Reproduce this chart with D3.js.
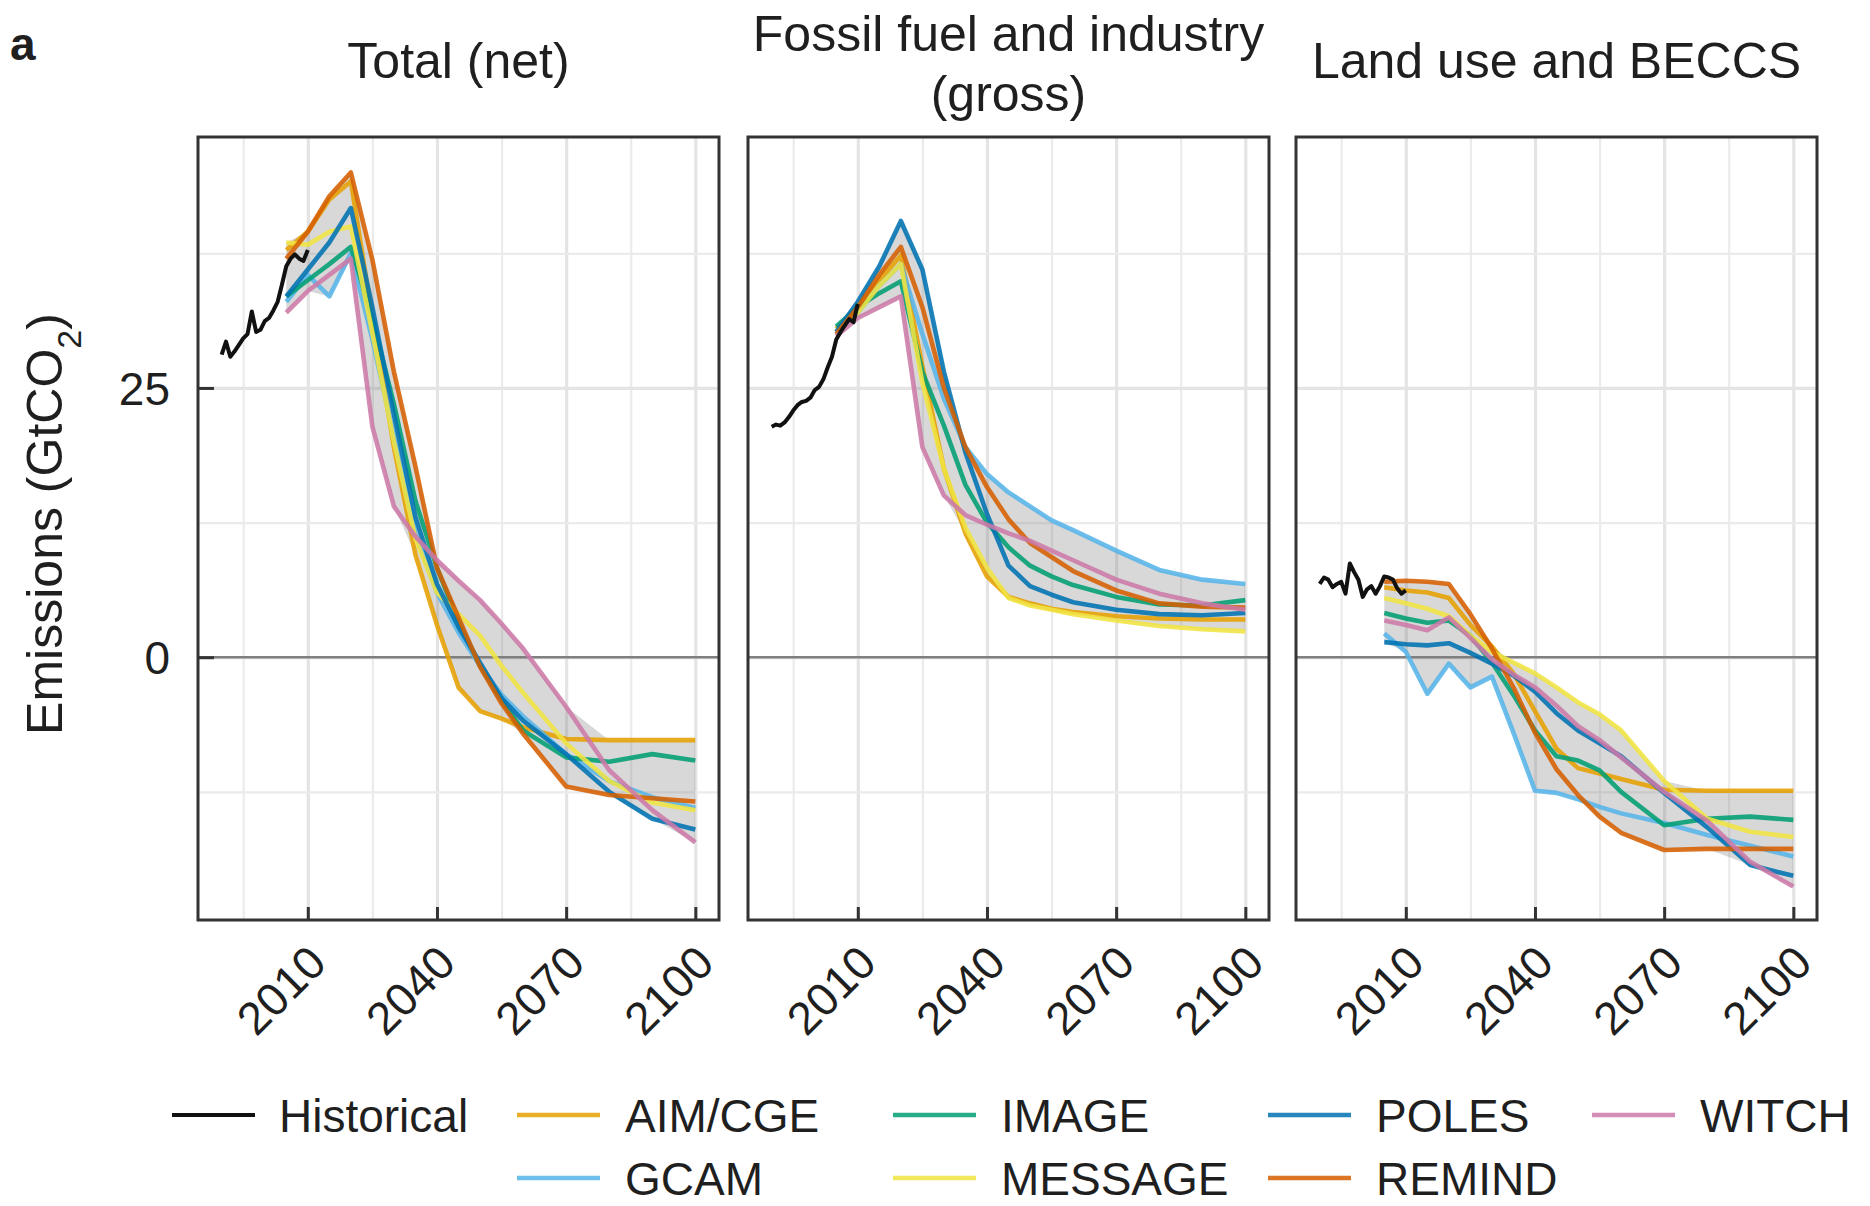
<!DOCTYPE html>
<html><head><meta charset="utf-8">
<script src="https://cdn.jsdelivr.net/npm/d3@7"></script>
<style>
body{margin:0;background:#fff;}
svg text{font-family:"Liberation Sans", Arial, Helvetica, sans-serif; fill:#1f1f1f;}
</style></head><body>
<svg id="chart" width="1870" height="1206"></svg>
<script>
// ---------------- DATA ----------------
const panelTitles = [["Total (net)"], ["Fossil fuel and industry", "(gross)"], ["Land use and BECCS"]];
const xTicks = [2010, 2040, 2070, 2100];
const xMinor = [1995, 2025, 2055, 2085];
const yTicks = [0, 25];
const yMinor = [-12.5, 12.5, 37.5];

const models = ["AIM/CGE", "GCAM", "IMAGE", "MESSAGE", "POLES", "REMIND", "WITCH"];
const modelColors = ["#E69F00", "#56B4E9", "#009E73", "#F0E442", "#0072B2", "#D55E00", "#CC79A7"];

const modelYears = [2005, 2010, 2015, 2020, 2025, 2030, 2035, 2040, 2045, 2050, 2055, 2060, 2070, 2080, 2090, 2100];
const histYears = [1990, 1991, 1992, 1993, 1994, 1995, 1996, 1997, 1998, 1999, 2000,
                   2001, 2002, 2003, 2004, 2005, 2006, 2007, 2008, 2009, 2010];

// Historical
const histTotal  = [28.1, 29.3, 27.9, 28.4, 29.0, 29.6, 30.0, 32.1, 30.2, 30.4, 31.2, 31.5, 32.2, 33.0, 34.6, 36.3, 37.0, 37.4, 37.0, 36.8, 37.8];
const histFossil = [21.4, 21.6, 21.5, 21.8, 22.3, 22.9, 23.4, 23.7, 23.8, 24.1, 24.8, 25.1, 25.8, 26.9, 27.9, 29.5, 30.2, 30.8, 31.4, 31.1, 32.8];
const histLand   = [6.8, 7.4, 7.2, 6.5, 6.8, 7.0, 5.9, 8.7, 7.9, 7.2, 5.6, 6.3, 6.6, 5.9, 6.6, 7.5, 7.4, 7.2, 6.4, 5.9, 6.2];

// Total (net)
const totalAIM     = [37.8, 39.5, 42.5, 44.2, 31.5, 19.5, 9.5, 3.0, -2.8, -5.0, -5.7, -6.5, -7.6, -7.7, -7.7, -7.7];
const totalGCAM    = [33.0, 35.5, 33.5, 37.5, 29.5, 20.5, 11.5, 6.0, 2.3, -0.8, -3.5, -5.5, -9.0, -11.5, -13.0, -14.0];
const totalIMAGE   = [33.5, 35.0, 36.5, 38.1, 31.5, 23.5, 14.5, 8.3, 3.3, -0.8, -4.0, -6.8, -9.3, -9.7, -9.0, -9.6];
const totalMESSAGE = [38.5, 38.3, 39.5, 40.0, 30.1, 20.0, 11.0, 6.0, 4.0, 2.0, -0.8, -3.3, -8.0, -11.5, -13.5, -14.2];
const totalPOLES   = [33.5, 36.0, 38.5, 41.7, 32.5, 22.5, 13.0, 6.8, 2.8, -0.5, -3.8, -5.9, -9.0, -12.5, -15.0, -16.0];
const totalREMIND  = [37.0, 39.5, 42.8, 45.0, 36.9, 26.5, 17.7, 8.3, 3.7, -0.9, -4.3, -7.1, -12.0, -12.8, -13.1, -13.4];
const totalWITCH   = [32.0, 34.0, 35.5, 37.0, 21.4, 14.0, 11.2, 9.0, 7.1, 5.3, 3.1, 0.8, -4.6, -10.5, -14.2, -17.2];

// Fossil fuel and industry (gross)
const fossilAIM     = [30.5, 32.5, 35.0, 37.3, 27.0, 17.5, 11.5, 7.5, 5.6, 5.0, 4.5, 4.2, 3.8, 3.6, 3.5, 3.5];
const fossilGCAM    = [30.0, 32.0, 34.5, 36.5, 30.0, 24.0, 19.5, 17.0, 15.3, 14.0, 12.7, 11.8, 9.9, 8.1, 7.2, 6.8];
const fossilIMAGE   = [30.7, 32.5, 33.8, 34.9, 26.5, 21.5, 16.0, 12.5, 10.2, 8.5, 7.5, 6.7, 5.6, 4.9, 4.8, 5.3];
const fossilMESSAGE = [30.2, 32.0, 34.5, 36.5, 25.5, 17.5, 12.0, 8.3, 5.5, 4.8, 4.4, 4.0, 3.4, 2.9, 2.6, 2.4];
const fossilPOLES   = [30.2, 33.0, 36.3, 40.5, 36.0, 26.5, 19.0, 13.3, 8.5, 6.6, 5.8, 5.1, 4.4, 4.0, 3.9, 4.1];
const fossilREMIND  = [30.0, 32.5, 35.5, 38.1, 32.5, 25.0, 19.5, 15.8, 12.8, 10.6, 9.3, 8.0, 6.2, 5.0, 4.7, 4.6];
const fossilWITCH   = [29.8, 31.5, 32.5, 33.5, 19.5, 15.0, 13.2, 12.3, 11.5, 10.8, 9.9, 9.0, 7.2, 5.9, 5.0, 4.4];

// Land use and BECCS
const landAIM     = [6.5, 6.2, 6.0, 5.5, 3.0, 1.0, -1.5, -5.0, -8.5, -10.3, -10.8, -11.3, -12.3, -12.4, -12.4, -12.4];
const landGCAM    = [2.2, 0.5, -3.4, -0.6, -2.8, -1.8, -7.0, -12.4, -12.6, -13.2, -13.9, -14.5, -15.4, -16.5, -17.5, -18.5];
const landIMAGE   = [4.1, 3.6, 3.2, 3.4, 2.0, -0.5, -3.5, -6.8, -9.2, -9.6, -10.5, -12.5, -15.6, -15.0, -14.8, -15.1];
const landMESSAGE = [5.5, 5.0, 4.5, 3.8, 2.0, 0.5, -0.5, -1.5, -2.8, -4.2, -5.3, -6.8, -11.5, -15.0, -16.2, -16.7];
const landPOLES   = [1.4, 1.2, 1.1, 1.3, 0.4, -0.6, -1.7, -3.2, -5.2, -6.8, -8.0, -9.2, -12.6, -15.8, -19.3, -20.3];
const landREMIND  = [7.0, 7.1, 7.0, 6.8, 4.0, 0.8, -2.8, -7.0, -10.4, -12.8, -14.8, -16.3, -17.9, -17.8, -17.8, -17.8];
const landWITCH   = [3.4, 3.0, 2.5, 3.7, 1.8, -0.2, -1.6, -2.8, -4.5, -6.4, -7.7, -9.3, -12.5, -15.2, -19.0, -21.3];

// tables built from the arrays above
const panels = [
  {title: panelTitles[0], hist: histTotal,
   series: [totalAIM, totalGCAM, totalIMAGE, totalMESSAGE, totalPOLES, totalREMIND, totalWITCH]},
  {title: panelTitles[1], hist: histFossil,
   series: [fossilAIM, fossilGCAM, fossilIMAGE, fossilMESSAGE, fossilPOLES, fossilREMIND, fossilWITCH]},
  {title: panelTitles[2], hist: histLand,
   series: [landAIM, landGCAM, landIMAGE, landMESSAGE, landPOLES, landREMIND, landWITCH]}
];

// ---------------- LAYOUT ----------------
const svg = d3.select("#chart");
const panelX = [198, 748, 1296], panelW = 521, panelTop = 137, panelBottom = 920;
const x = d3.scaleLinear().domain([1984.5, 2105.5]).range([0, panelW]);
const y = d3.scaleLinear().domain([-24.4, 48.3]).range([panelBottom, panelTop]);

const line = d3.line().x(d => x(d[0])).y(d => y(d[1]));
const area = d3.area().x(d => x(d[0])).y0(d => y(d[1])).y1(d => y(d[2]));

panels.forEach((p, pi) => {
  const g = svg.append("g").attr("transform", `translate(${panelX[pi]},0)`);

  const gridStyle = (sel, w, c) => {
    sel.select(".domain").remove();
    sel.selectAll("line").attr("stroke", c).attr("stroke-width", w);
    sel.selectAll("text").remove();
  };
  g.append("g").attr("transform", `translate(0,${panelBottom})`)
    .call(d3.axisBottom(x).tickValues(xMinor).tickSize(-(panelBottom - panelTop)).tickFormat(""))
    .call(s => gridStyle(s, 2.2, "#ebebeb"));
  g.append("g").attr("transform", `translate(0,${panelBottom})`)
    .call(d3.axisBottom(x).tickValues(xTicks).tickSize(-(panelBottom - panelTop)).tickFormat(""))
    .call(s => gridStyle(s, 3.2, "#e4e4e4"));
  g.append("g")
    .call(d3.axisLeft(y).tickValues(yMinor).tickSize(-panelW).tickFormat(""))
    .call(s => gridStyle(s, 2.2, "#ebebeb"));
  g.append("g")
    .call(d3.axisLeft(y).tickValues(yTicks).tickSize(-panelW).tickFormat(""))
    .call(s => gridStyle(s, 3.2, "#e4e4e4"));

  // zero line
  g.append("line").attr("x1", 0).attr("x2", panelW).attr("y1", y(0)).attr("y2", y(0))
    .attr("stroke", "#808080").attr("stroke-width", 2.6);

  // ribbon (model range)
  const ribbon = modelYears.map((yr, i) => [yr, d3.min(p.series, s => s[i]), d3.max(p.series, s => s[i])]);
  g.append("path").datum(ribbon).attr("d", area)
    .attr("fill", "#7f7f7f").attr("fill-opacity", 0.3);

  // model lines
  p.series.forEach((s, mi) => {
    g.append("path").datum(modelYears.map((yr, i) => [yr, s[i]]))
      .attr("d", line).attr("fill", "none")
      .attr("stroke", modelColors[mi]).attr("stroke-width", 4.6)
      .attr("stroke-opacity", 0.88).attr("stroke-linejoin", "round");
  });

  // historical
  g.append("path").datum(histYears.map((yr, i) => [yr, p.hist[i]]))
    .attr("d", line).attr("fill", "none")
    .attr("stroke", "#111").attr("stroke-width", 4).attr("stroke-linejoin", "round");

  // x axis ticks (inside) and labels
  const xa = g.append("g").attr("transform", `translate(0,${panelBottom})`)
    .call(d3.axisBottom(x).tickValues(xTicks).tickSizeInner(-13).tickSizeOuter(0).tickFormat(d3.format("d")));
  xa.select(".domain").remove();
  xa.selectAll("line").attr("stroke", "#333").attr("stroke-width", 3);
  xa.selectAll("text")
    .attr("x", 0).attr("y", 0).attr("dy", "0.72em")
    .attr("text-anchor", "end")
    .attr("transform", "translate(-3,22) rotate(-45)")
    .style("font-size", "46px").style("fill", "#1f1f1f");

  // y axis only on the first panel
  if (pi === 0) {
    const ya = g.append("g")
      .call(d3.axisLeft(y).tickValues(yTicks).tickSizeInner(-16).tickSizeOuter(0).tickPadding(28).tickFormat(d3.format("d")));
    ya.select(".domain").remove();
    ya.selectAll("line").attr("stroke", "#333").attr("stroke-width", 3);
    ya.selectAll("text").style("font-size", "46px").style("fill", "#1f1f1f").attr("dy", "0.36em");
  }

  // border
  g.append("rect").attr("x", 0).attr("y", panelTop).attr("width", panelW).attr("height", panelBottom - panelTop)
    .attr("fill", "none").attr("stroke", "#333").attr("stroke-width", 3);

  // title
  const t = g.append("text").attr("text-anchor", "middle").style("font-size", "50px");
  if (p.title.length === 1) {
    t.append("tspan").attr("x", panelW / 2).attr("y", 78).text(p.title[0]);
  } else {
    t.append("tspan").attr("x", panelW / 2).attr("y", 51).text(p.title[0]);
    t.append("tspan").attr("x", panelW / 2).attr("y", 111).text(p.title[1]);
  }
});

// panel letter
svg.append("text").attr("x", 10).attr("y", 60).style("font-size", "46px").style("font-weight", "bold").text("a");

// y axis title
const yt = svg.append("text").attr("transform", "translate(44,524) rotate(-90)")
  .attr("text-anchor", "middle").attr("dy", "0.35em").style("font-size", "50px");
yt.append("tspan").text("Emissions (GtCO");
yt.append("tspan").attr("baseline-shift", "sub").style("font-size", "34px").text("2");
yt.append("tspan").text(")");

// legend
const legRowY = [1115, 1178];
const keyLen = 83;
const legHist = svg.append("g");
legHist.append("line").attr("x1", 172).attr("x2", 172 + keyLen).attr("y1", legRowY[0]).attr("y2", legRowY[0])
  .attr("stroke", "#111").attr("stroke-width", 4);
legHist.append("text").attr("x", 279).attr("y", legRowY[0]).attr("dy", "0.36em")
  .style("font-size", "46px").text("Historical");

const legColX = [517, 893, 1268, 1592];
models.forEach((m, i) => {
  const col = Math.floor(i / 2), row = i % 2;
  const kx = legColX[col], ky = legRowY[row];
  svg.append("line").attr("x1", kx).attr("x2", kx + keyLen).attr("y1", ky).attr("y2", ky)
    .attr("stroke", modelColors[i]).attr("stroke-width", 4.6).attr("stroke-opacity", 0.85);
  svg.append("text").attr("x", kx + 108).attr("y", ky).attr("dy", "0.36em")
    .style("font-size", "46px").text(m);
});
</script>
</body></html>
